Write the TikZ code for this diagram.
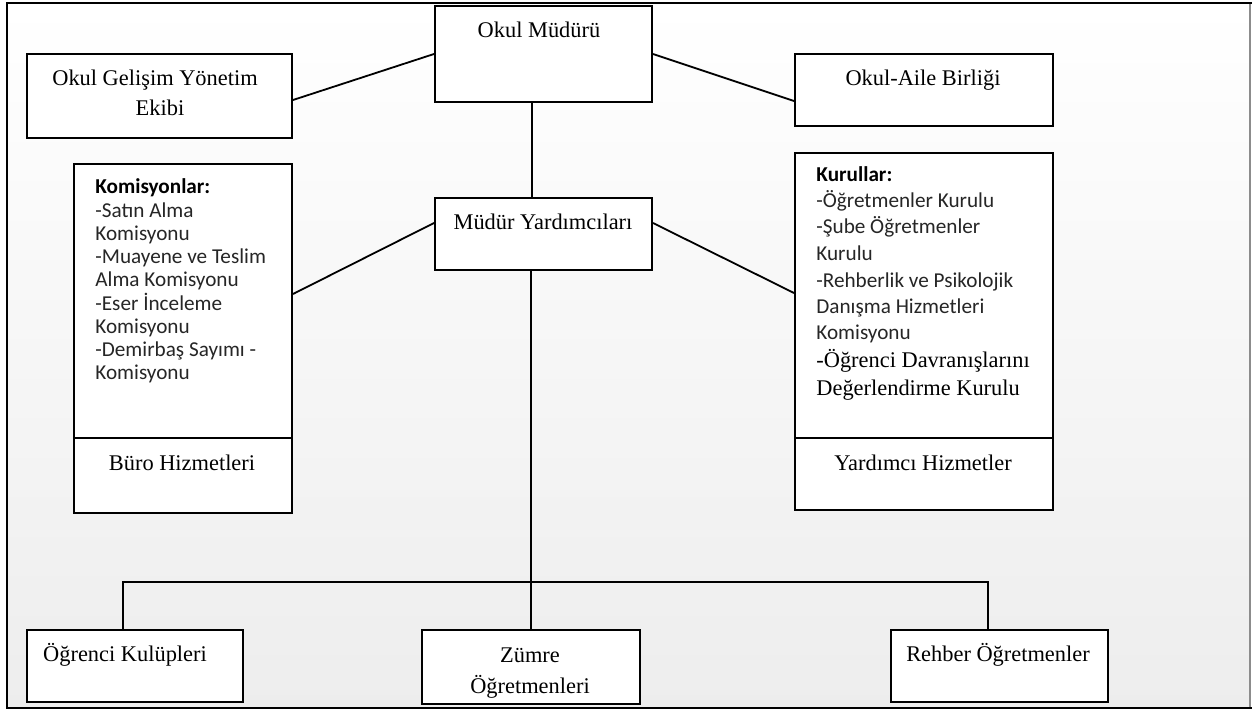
\documentclass[tikz,border=0pt]{standalone}
\usepackage{fontspec}
\setmainfont{Liberation Serif}
\newfontfamily\calfont{Carlito}
\usetikzlibrary{calc}
\begin{document}
\begin{tikzpicture}[x=0.5pt,y=-0.5pt,
  box/.style={draw,line width=1pt,fill=white,inner sep=0pt,anchor=north west},
  conn/.style={line width=0.9pt},
  tm/.style={font=\fontsize{11.2}{13}\selectfont,inner sep=0pt,anchor=base},
  cl/.style={font=\calfont\fontsize{10.6}{12}\selectfont,inner sep=0pt,anchor=base west,text=black!85},
  clb/.style={font=\calfont\bfseries\fontsize{10.6}{12}\selectfont,inner sep=0pt,anchor=base west},
  tml/.style={font=\fontsize{11.2}{13}\selectfont,inner sep=0pt,anchor=base west}]
\useasboundingbox (0,0) rectangle (1252,711);
\shade[top color=white,bottom color=black!7] (7,3) rectangle (1250,708);
\draw[black!45,line width=0.6pt] (1250,3) -- (1250,708);
\draw[line width=1.1pt] (1252,708) -- (7,708) -- (7,3) -- (1252,3);

% boxes
\node[box,minimum width=108.5pt,minimum height=48pt] (om) at (434,5) {};
\node[box,minimum width=132.5pt,minimum height=42pt] (ogye) at (26,53) {};
\node[box,minimum width=129pt,minimum height=36pt] (oab) at (794,53) {};
\node[box,minimum width=108.5pt,minimum height=36pt] (my) at (434,197) {};
\node[box,minimum width=109pt,minimum height=137pt] (kom) at (73,163) {};
\node[box,minimum width=109pt,minimum height=37.5pt] (buro) at (73,437) {};
\node[box,minimum width=129pt,minimum height=142.5pt] (kur) at (794,152) {};
\node[box,minimum width=129pt,minimum height=36pt] (yard) at (794,437) {};
\node[box,minimum width=108pt,minimum height=36pt] (ogr) at (26,629) {};
\node[box,minimum width=109pt,minimum height=37pt] (zum) at (421,629) {};
\node[box,minimum width=108.5pt,minimum height=36pt] (reh) at (890,629) {};

% connectors
\draw[conn] ([yshift=-2pt]ogye.east) -- (om.west);
\draw[conn] (om.east) -- ([yshift=-5.5pt]oab.west);
\draw[conn] ([xshift=-5.75pt]om.south) -- ([xshift=-5.75pt]my.north);
\draw[conn] ([yshift=5.5pt]my.west) -- ([yshift=3.5pt]kom.east);
\draw[conn] ([yshift=5.5pt]my.east) -- ([yshift=1.25pt]kur.west);
\draw[conn] (zum.north |- my.south) -- (zum.north);
\draw[conn] ([xshift=-6pt]ogr.north) -- ++(0,-47) -| ([xshift=-5.75pt]reh.north);

% texts
\node[tm] (omt) at (539,38) {Okul Müdürü};
\node[tm] (ogyet1) at (155,86) {Okul Gelişim Yönetim};
\node[tm] (ogyet2) at (160,116) {Ekibi};
\node[tm] (oabt) at (923,86) {Okul-Aile Birliği};
\node[tm] (myt) at (543,230) {Müdür Yardımcıları};
\node[tm] (burot) at (182,470) {Büro Hizmetleri};
\node[tm] (yardt) at (923,470) {Yardımcı Hizmetler};
\node[tm] (ogrt) at (125,661) {Öğrenci Kulüpleri};
\node[tm] (zumt1) at (530,662) {Zümre};
\node[tm] (zumt2) at (530,693) {Öğretmenleri};
\node[tm] (reht) at (998,661) {Rehber Öğretmenler};

% Komisyonlar list
\node[clb] (k0) at (95,194) {Komisyonlar:};
\node[cl] (k1) at (95,217.2) {-Satın Alma};
\node[cl] (k2) at (95,240.4) {Komisyonu};
\node[cl] (k3) at (95,263.6) {-Muayene ve Teslim};
\node[cl] (k4) at (95,286.8) {Alma Komisyonu};
\node[cl] (k5) at (95,310) {-Eser İnceleme};
\node[cl] (k6) at (95,333.2) {Komisyonu};
\node[cl] (k7) at (95,356.4) {-Demirbaş Sayımı -};
\node[cl] (k8) at (95,379.6) {Komisyonu};

% Kurullar list
\node[clb] (u0) at (816,182) {Kurullar:};
\node[cl] (u1) at (816,208) {-Öğretmenler Kurulu};
\node[cl] (u2) at (816,234) {-Şube Öğretmenler};
\node[cl] (u3) at (816,261) {Kurulu};
\node[cl] (u4) at (816,287) {-Rehberlik ve Psikolojik};
\node[cl] (u5) at (816,313) {Danışma Hizmetleri};
\node[cl] (u6) at (816,339) {Komisyonu};
\node[tml] (u7) at (816,367) {-Öğrenci Davranışlarını};
\node[tml] (u8) at (816,395) {Değerlendirme Kurulu};
\end{tikzpicture}
\end{document}
